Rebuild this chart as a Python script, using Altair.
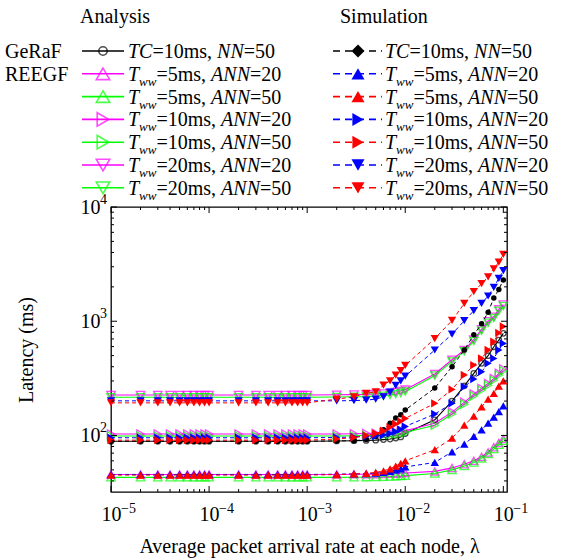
import altair as alt
import pandas as pd

# ---------------- data ----------------
x_rate = [1e-5, 2e-5, 3e-5, 4e-5, 5e-5, 6e-5, 7e-5, 8e-5, 9e-5,
          1e-4, 2e-4, 3e-4, 4e-4, 5e-4, 6e-4, 7e-4, 8e-4, 9e-4,
          1e-3, 2e-3, 3e-3, 4e-3, 5e-3, 6e-3, 7e-3, 8e-3, 9e-3,
          1e-2, 2e-2, 3e-2, 4e-2, 5e-2, 6e-2, 7e-2, 8e-2, 9e-2,
          1e-1]

series_keys = ["GeRaF", "5_20", "5_50", "10_20", "10_50", "20_20", "20_50"]

ana_geraf = [89, 89, 89, 89, 89, 89, 89, 89, 89, 89, 89, 89, 89, 89, 89, 89, 89, 89,
             89, 89.5, 90, 90.5, 91, 92, 93, 95, 97,
             104, 137, 200, 272, 350, 428, 499, 598, 684, 783]
ana_5_20 = [45.6, 45.6, 45.6, 45.6, 45.6, 45.6, 45.6, 45.6, 45.6, 45.6, 45.6, 45.6, 45.6, 45.6, 45.6, 45.6, 45.6, 45.6,
            45.6, 45.6, 45.7, 45.8, 45.9, 46, 46.2, 46.4, 46.7,
            47, 48.5, 52, 56, 60, 65, 71, 79, 86, 93]
ana_5_50 = [43, 43, 43, 43, 43, 43, 43, 43, 43, 43, 43, 43, 43, 43, 43, 43, 43, 43,
            43, 43, 43.1, 43.2, 43.3, 43.5, 43.7, 44, 44.2,
            44.5, 46.5, 50, 54, 58, 63, 69, 76, 83, 90]
ana_10_20 = [103, 103, 103, 103, 103, 103, 103, 103, 103, 103, 103, 103, 103, 103, 103, 103, 103, 103,
             103, 103, 103.5, 104, 104.5, 105, 106, 107, 108,
             110, 128, 160, 195, 230, 258, 285, 315, 350, 382]
ana_10_50 = [99, 99, 99, 99, 99, 99, 99, 99, 99, 99, 99, 99, 99, 99, 99, 99, 99, 99,
             99, 99, 99.5, 100, 100.5, 101, 102, 103, 104,
             106, 123, 154, 188, 222, 249, 275, 304, 338, 368]
ana_20_20 = [226, 226, 226, 226, 226, 226, 226, 226, 226, 226, 226, 226, 226, 226, 226, 226, 226, 226,
             226, 227, 228, 229, 231, 233, 236, 240, 245,
             252, 345, 460, 560, 690, 850, 1000, 1095, 1270, 1400]
ana_20_50 = [216, 216, 216, 216, 216, 216, 216, 216, 216, 216, 216, 216, 216, 216, 216, 216, 216, 216,
             216, 217, 218, 219, 221, 223, 226, 230, 235,
             242, 335, 445, 545, 670, 825, 970, 1065, 1235, 1360]

sim_geraf = [89, 89, 89, 89, 89, 89, 89, 89, 89, 89, 89, 89, 89, 89, 89, 89, 89, 89,
             89, 89.5, 90, 92, 98, 112, 128, 142, 152,
             167, 260, 400, 560, 760, 950, 1200, 1600, 1900, 2300]
sim_5_20 = [45.6, 45.6, 45.6, 45.6, 45.6, 45.6, 45.6, 45.6, 45.6, 45.6, 45.6, 45.6, 45.6, 45.6, 45.6, 45.6, 45.6, 45.6,
            45.6, 45.8, 46, 46.3, 46.8, 47.5, 48.5, 50, 51,
            53, 58, 72, 84, 98, 112, 128, 145, 162, 182]
sim_5_50 = [45, 45, 45, 45, 45, 45, 45, 45, 45, 45, 45, 45, 45, 45, 45, 45, 45, 45,
            45, 45.5, 46, 46.5, 47.5, 49, 51, 54, 57,
            60, 75, 95, 123, 148, 178, 208, 234, 270, 300]
sim_10_20 = [95.5, 95.5, 95.5, 95.5, 95.5, 95.5, 95.5, 95.5, 95.5, 95.5, 95.5, 95.5, 95.5, 95.5, 95.5, 95.5, 95.5, 95.5,
             95.5, 96, 97, 98, 99, 101, 104, 108, 113,
             120, 154, 191, 267, 312, 361, 428, 473, 560, 640]
sim_10_50 = [91, 91, 91, 91, 91, 91, 91, 91, 91, 91, 91, 91, 91, 91, 91, 91, 91, 91,
             91, 93, 96, 100, 104, 110, 118, 126, 133,
             141, 191, 253, 338, 413, 473, 560, 662, 790, 900]
sim_20_20 = [201, 201, 201, 201, 201, 201, 201, 201, 201, 201, 201, 201, 201, 201, 201, 201, 201, 201,
             201, 201, 202, 204, 208, 218, 240, 275, 300,
             330, 560, 772, 1010, 1236, 1435, 1663, 1982, 2376, 2767]
sim_20_50 = [193, 193, 193, 193, 193, 193, 193, 193, 193, 193, 193, 193, 193, 193, 193, 193, 193, 193,
             193, 208, 218, 234, 241, 276, 301, 338, 370,
             410, 705, 1015, 1430, 1812, 2130, 2450, 2880, 3300, 3850]

analysis_values = [ana_geraf, ana_5_20, ana_5_50, ana_10_20, ana_10_50, ana_20_20, ana_20_50]
simulation_values = [sim_geraf, sim_5_20, sim_5_50, sim_10_20, sim_10_50, sim_20_20, sim_20_50]

analysis_colors = ["#000000", "#ff00ff", "#00ff00", "#ff00ff", "#00ff00", "#ff00ff", "#00ff00"]
simulation_colors = ["#000000", "#0000ff", "#ff0000", "#0000ff", "#ff0000", "#0000ff", "#ff0000"]
plot_shapes = ["circle", "triangle-up", "triangle-up", "triangle-right", "triangle-right",
               "triangle-down", "triangle-down"]
legend_sim_shapes = ["diamond", "triangle-up", "triangle-up", "triangle-right", "triangle-right",
                     "triangle-down", "triangle-down"]
marker_sizes = [30, 70, 70, 70, 70, 70, 70]

legend_tww = ["10", "5", "5", "10", "10", "20", "20"]
legend_ann = ["50", "20", "50", "20", "50", "20", "50"]

x_major = [1e-5, 1e-4, 1e-3, 1e-2, 1e-1]
x_exponents = ["\u22125", "\u22124", "\u22123", "\u22122", "\u22121"]
y_major = [100, 1000, 10000]
y_exponents = ["2", "3", "4"]

# ---------------- layout ----------------
W, H = 396, 285
PAD_L, PAD_T = 111, 207
FONT = "Liberation Serif, Times New Roman, DejaVu Serif, serif"
FS = 20
FS_EXP = 14

xs = alt.Scale(type="log", domain=[1e-5, 0.109])
ys = alt.Scale(type="log", domain=[32, 10000])


def long_frame(values, colors, shapes):
    rows = []
    for k, vals, c, s, z in zip(series_keys, values, colors, shapes, marker_sizes):
        for xv, yv in zip(x_rate, vals):
            rows.append({"x": xv, "v": yv, "key": k, "col": c, "shp": s, "sz": z})
    return pd.DataFrame(rows)


ana_df = long_frame(analysis_values, analysis_colors, plot_shapes)
sim_df = long_frame(simulation_values, simulation_colors, plot_shapes)

x_axis = alt.Axis(values=x_major, labelExpr="'10'", ticks=False, domain=False, grid=False,
                  labelFont=FONT, labelFontSize=FS, labelColor="black", labelPadding=12,
                  labelFlush=False, labelOverlap=False,
                  title="Average packet arrival rate at each node, \u03bb", titleFont=FONT,
                  titleFontSize=FS, titleFontWeight="normal", titleColor="black", titlePadding=12)
y_axis = alt.Axis(values=y_major, labelExpr="'10'", ticks=False, domain=False, grid=False,
                  labelFont=FONT, labelFontSize=FS, labelColor="black", labelPadding=11,
                  labelFlush=False, labelOverlap=False,
                  title="Latency (ms)", titleFont=FONT, titleFontSize=FS,
                  titleFontWeight="normal", titleColor="black", titlePadding=44)


def enc(chart, with_axes=False):
    return chart.encode(
        x=alt.X("x:Q", scale=xs, axis=x_axis if with_axes else None),
        y=alt.Y("v:Q", scale=ys, axis=y_axis if with_axes else None),
        color=alt.Color("col:N", scale=None),
        detail="key:N",
    )


ana_lines = enc(alt.Chart(ana_df).mark_line(strokeWidth=1.1), True)
ana_pts = enc(alt.Chart(ana_df).mark_point(filled=False, strokeWidth=1.3)).encode(
    shape=alt.Shape("shp:N", scale=None), size=alt.Size("sz:Q", scale=None))
sim_lines = enc(alt.Chart(sim_df).mark_line(strokeWidth=1.0, strokeDash=[4, 3]))
sim_pts = enc(alt.Chart(sim_df).mark_point(filled=True, opacity=1)).encode(
    shape=alt.Shape("shp:N", scale=None), size=alt.Size("sz:Q", scale=None))

# exponents of the tick labels (superscripts)
xexp = alt.Chart(pd.DataFrame({"t": x_major, "e": x_exponents})).mark_text(
    font=FONT, fontSize=FS_EXP, align="left", baseline="middle", dx=10, color="black").encode(
    x=alt.X("t:Q", scale=xs, axis=None), y=alt.value(H + 17), text="e:N")
yexp = alt.Chart(pd.DataFrame({"t": y_major, "e": y_exponents})).mark_text(
    font=FONT, fontSize=FS_EXP, align="left", baseline="middle", dy=-7, color="black").encode(
    y=alt.Y("t:Q", scale=ys, axis=None), x=alt.value(-11), text="e:N")

# ---------------- inward ticks on all four sides ----------------
x_minor = [m * d for d in [1e-5, 1e-4, 1e-3, 1e-2] for m in range(2, 10)]
y_minor = [m * d for d in [10, 100, 1000] for m in range(2, 10) if m * d >= 32]
xt_df = pd.DataFrame({"t": x_major + x_minor, "len": [6] * len(x_major) + [3] * len(x_minor)})
yt_df = pd.DataFrame({"t": y_major + y_minor, "len": [6] * len(y_major) + [3] * len(y_minor)})

tick_layers = []
for df, horiz in [(xt_df, True), (yt_df, False)]:
    for L in (6, 3):
        sub = df[df["len"] == L]
        base = alt.Chart(sub).mark_rule(color="black", strokeWidth=1)
        if horiz:
            tick_layers.append(base.encode(x=alt.X("t:Q", scale=xs, axis=None),
                                           y=alt.value(H), y2=alt.value(H - L)))
            tick_layers.append(base.encode(x=alt.X("t:Q", scale=xs, axis=None),
                                           y=alt.value(0), y2=alt.value(L)))
        else:
            tick_layers.append(base.encode(y=alt.Y("t:Q", scale=ys, axis=None),
                                           x=alt.value(0), x2=alt.value(L)))
            tick_layers.append(base.encode(y=alt.Y("t:Q", scale=ys, axis=None),
                                           x=alt.value(W), x2=alt.value(W - L)))

# ---------------- legend (page pixel layout) ----------------
lxs = alt.Scale(domain=[0, 562], range=[-PAD_L, 562 - PAD_L])
lys = alt.Scale(domain=[0, 559], range=[-PAD_T, 559 - PAD_T])
ROW0, ROWSTEP = 51, 22.8
A_L0, A_L1, A_M, A_T = 82, 124, 103, 128
S_L0, S_L1, S_M, S_T = 333, 382, 358, 385

REG = {" ": 250, ",": 250, "=": 564, "m": 778, "s": 389}
REG.update({str(d): 500 for d in range(10)})
ITA = {"T": 556, "C": 667, "N": 667, "A": 611, "w": 667}
SUB = 13


def width(txt, table, size):
    return sum(table[c] for c in txt) * size / 1000.0


sym_rows, seg_rows = [], []
for i, k in enumerate(series_keys):
    cy = ROW0 + ROWSTEP * i
    sym_rows.append({"cy": cy, "a0": A_L0, "a1": A_L1, "am": A_M, "s0": S_L0, "s1": S_L1,
                     "sm": S_M, "acol": analysis_colors[i], "scol": simulation_colors[i],
                     "ashp": plot_shapes[i], "sshp": legend_sim_shapes[i],
                     "lsz": 70 if i == 0 else 180})
    if i == 0:
        parts = [("TC", "it"), ("=" + legend_tww[i] + "ms, ", "rm"), ("NN", "it"),
                 ("=" + legend_ann[i], "rm")]
    else:
        parts = [("T", "it"), ("ww", "sub"), ("=" + legend_tww[i] + "ms, ", "rm"),
                 ("ANN", "it"), ("=" + legend_ann[i], "rm")]
    for x0 in (A_T, S_T):
        xx = x0
        for txt, st in parts:
            seg_rows.append({"lx": xx, "ly": cy + 7 + (5 if st == "sub" else 0), "txt": txt, "st": st})
            if st == "rm":
                xx += width(txt, REG, FS)
            elif st == "it":
                xx += width(txt, ITA, FS)
            else:
                xx += width(txt, ITA, SUB)

sym_df = pd.DataFrame(sym_rows)
seg_df = pd.DataFrame(seg_rows)
head_df = pd.DataFrame({"lx": [80, 340, 5, 5],
                        "ly": [23, 23, ROW0 + 7, ROW0 + ROWSTEP + 7],
                        "txt": ["Analysis", "Simulation", "GeRaF", "REEGF"]})


def LX(f):
    return alt.X(f + ":Q", scale=lxs, axis=None)


def LY(f):
    return alt.Y(f + ":Q", scale=lys, axis=None)


leg_layers = [
    alt.Chart(sym_df).mark_rule(strokeWidth=1.6).encode(
        x=LX("a0"), x2="a1:Q", y=LY("cy"), color=alt.Color("acol:N", scale=None)),
    alt.Chart(sym_df).mark_point(filled=False, strokeWidth=1.6).encode(
        x=LX("am"), y=LY("cy"), color=alt.Color("acol:N", scale=None),
        shape=alt.Shape("ashp:N", scale=None), size=alt.Size("lsz:Q", scale=None)),
    alt.Chart(sym_df).mark_rule(strokeWidth=1.6, strokeDash=[7, 5]).encode(
        x=LX("s0"), x2="s1:Q", y=LY("cy"), color=alt.Color("scol:N", scale=None)),
    alt.Chart(sym_df).mark_point(filled=True, size=170, opacity=1).encode(
        x=LX("sm"), y=LY("cy"), color=alt.Color("scol:N", scale=None),
        shape=alt.Shape("sshp:N", scale=None)),
    alt.Chart(seg_df[seg_df["st"] == "rm"]).mark_text(
        font=FONT, fontSize=FS, align="left", baseline="alphabetic", color="black").encode(
        x=LX("lx"), y=LY("ly"), text="txt:N"),
    alt.Chart(seg_df[seg_df["st"] == "it"]).mark_text(
        font=FONT, fontSize=FS, fontStyle="italic", align="left", baseline="alphabetic",
        color="black").encode(x=LX("lx"), y=LY("ly"), text="txt:N"),
    alt.Chart(seg_df[seg_df["st"] == "sub"]).mark_text(
        font=FONT, fontSize=SUB, fontStyle="italic", align="left", baseline="alphabetic",
        color="black").encode(x=LX("lx"), y=LY("ly"), text="txt:N"),
    alt.Chart(head_df).mark_text(
        font=FONT, fontSize=FS, align="left", baseline="alphabetic", color="black").encode(
        x=LX("lx"), y=LY("ly"), text="txt:N"),
]

chart = alt.layer(
    ana_lines, ana_pts, sim_lines, sim_pts, xexp, yexp, *tick_layers, *leg_layers
).resolve_scale(x="independent", y="independent").properties(
    width=W, height=H,
    autosize=alt.AutoSizeParams(type="none"),
    padding={"left": PAD_L, "top": PAD_T, "right": 562 - PAD_L - W, "bottom": 559 - PAD_T - H},
    background="white",
).configure_view(stroke="black", strokeWidth=1.3)

chart.save("out.html", embed_options={"renderer": "svg", "actions": False})
